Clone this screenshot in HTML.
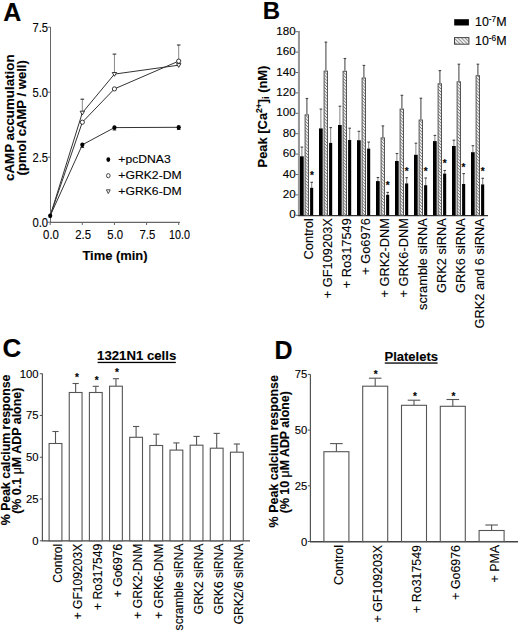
<!DOCTYPE html>
<html><head><meta charset="utf-8"><style>
html,body{margin:0;padding:0;background:#fff;}
svg{display:block;}
text{font-family:"Liberation Sans", sans-serif;fill:#000;stroke:#000;stroke-width:0.12px;}
</style></head><body>
<svg width="520" height="633" viewBox="0 0 520 633">
<defs>
<pattern id="hatch" patternUnits="userSpaceOnUse" width="2.2" height="2.2" patternTransform="rotate(-45)">
<rect width="2.2" height="2.2" fill="#eee"/><line x1="0" y1="0" x2="0" y2="2.2" stroke="#444" stroke-width="1.0"/>
</pattern>
<pattern id="hatch2" patternUnits="userSpaceOnUse" width="2.6" height="2.6" patternTransform="rotate(-45)">
<rect width="2.6" height="2.6" fill="#eee"/><line x1="0" y1="0" x2="0" y2="2.6" stroke="#555" stroke-width="1.1"/>
</pattern>
</defs>
<rect width="520" height="633" fill="#fff"/>
<text x="3.2" y="20.8" font-size="25" font-weight="bold" text-anchor="start">A</text>
<line x1="50.5" y1="27" x2="50.5" y2="222.5" stroke="#666" stroke-width="1"/>
<line x1="50" y1="222.3" x2="180" y2="222.3" stroke="#666" stroke-width="1.2"/>
<line x1="47.8" y1="222.2" x2="50.5" y2="222.2" stroke="#666" stroke-width="1"/>
<text x="48.0" y="226.79999999999998" font-size="12.6" font-weight="normal" text-anchor="end" textLength="15.6" lengthAdjust="spacingAndGlyphs">0.0</text>
<line x1="47.8" y1="157.2" x2="50.5" y2="157.2" stroke="#666" stroke-width="1"/>
<text x="48.0" y="161.79999999999998" font-size="12.6" font-weight="normal" text-anchor="end" textLength="15.6" lengthAdjust="spacingAndGlyphs">2.5</text>
<line x1="47.8" y1="92.19999999999999" x2="50.5" y2="92.19999999999999" stroke="#666" stroke-width="1"/>
<text x="48.0" y="96.79999999999998" font-size="12.6" font-weight="normal" text-anchor="end" textLength="15.6" lengthAdjust="spacingAndGlyphs">5.0</text>
<line x1="47.8" y1="27.19999999999999" x2="50.5" y2="27.19999999999999" stroke="#666" stroke-width="1"/>
<text x="48.0" y="31.79999999999999" font-size="12.6" font-weight="normal" text-anchor="end" textLength="15.6" lengthAdjust="spacingAndGlyphs">7.5</text>
<line x1="50.2" y1="222.3" x2="50.2" y2="225" stroke="#666" stroke-width="1"/>
<text x="51.0" y="239.4" font-size="12.6" font-weight="normal" text-anchor="middle" textLength="15.8" lengthAdjust="spacingAndGlyphs">0.0</text>
<line x1="82.325" y1="222.3" x2="82.325" y2="225" stroke="#666" stroke-width="1"/>
<text x="83.125" y="239.4" font-size="12.6" font-weight="normal" text-anchor="middle" textLength="15.8" lengthAdjust="spacingAndGlyphs">2.5</text>
<line x1="114.45" y1="222.3" x2="114.45" y2="225" stroke="#666" stroke-width="1"/>
<text x="115.25" y="239.4" font-size="12.6" font-weight="normal" text-anchor="middle" textLength="15.8" lengthAdjust="spacingAndGlyphs">5.0</text>
<line x1="146.575" y1="222.3" x2="146.575" y2="225" stroke="#666" stroke-width="1"/>
<text x="147.375" y="239.4" font-size="12.6" font-weight="normal" text-anchor="middle" textLength="15.8" lengthAdjust="spacingAndGlyphs">7.5</text>
<line x1="178.7" y1="222.3" x2="178.7" y2="225" stroke="#666" stroke-width="1"/>
<text x="179.5" y="239.4" font-size="12.6" font-weight="normal" text-anchor="middle" textLength="21.0" lengthAdjust="spacingAndGlyphs">10.0</text>
<text x="115.0" y="260.2" font-size="12.4" font-weight="bold" text-anchor="middle" textLength="65.2" lengthAdjust="spacingAndGlyphs">Time (min)</text>
<text x="13.9" y="181.0" font-size="12.4" font-weight="bold" text-anchor="start" transform="rotate(-90 13.9 181.0)" textLength="126.6" lengthAdjust="spacingAndGlyphs">cAMP accumulation</text>
<text x="25.7" y="175.4" font-size="12.4" font-weight="bold" text-anchor="start" transform="rotate(-90 25.7 175.4)" textLength="115.2" lengthAdjust="spacingAndGlyphs">(pmol cAMP / well)</text>
<line x1="82.325" y1="112.8" x2="82.325" y2="99.2" stroke="#888" stroke-width="1"/>
<line x1="80.525" y1="99.2" x2="84.125" y2="99.2" stroke="#333" stroke-width="1.1"/>
<line x1="114.45" y1="74.1" x2="114.45" y2="54.1" stroke="#888" stroke-width="1"/>
<line x1="112.65" y1="54.1" x2="116.25" y2="54.1" stroke="#333" stroke-width="1.1"/>
<line x1="178.7" y1="61.1" x2="178.7" y2="45.0" stroke="#888" stroke-width="1"/>
<line x1="176.89999999999998" y1="45.0" x2="180.5" y2="45.0" stroke="#333" stroke-width="1.1"/>
<line x1="82.325" y1="144.8" x2="82.325" y2="147.5" stroke="#333" stroke-width="1"/>
<line x1="80.525" y1="147.5" x2="84.125" y2="147.5" stroke="#333" stroke-width="1"/>
<line x1="114.45" y1="127.6" x2="114.45" y2="130" stroke="#333" stroke-width="1"/>
<line x1="112.65" y1="130" x2="116.25" y2="130" stroke="#333" stroke-width="1"/>
<line x1="178.7" y1="127.3" x2="178.7" y2="129.5" stroke="#333" stroke-width="1"/>
<line x1="176.89999999999998" y1="129.5" x2="180.5" y2="129.5" stroke="#333" stroke-width="1"/>
<polyline points="50.20,215.80 82.33,144.80 114.45,127.60 178.70,127.30" fill="none" stroke="#333" stroke-width="1"/>
<polyline points="50.20,215.80 82.33,122.20 114.45,88.90 178.70,61.10" fill="none" stroke="#333" stroke-width="1"/>
<polyline points="50.20,215.80 82.33,112.80 114.45,74.10 178.70,65.20" fill="none" stroke="#333" stroke-width="1"/>
<path d="M80.12,111.20 L84.53,111.20 L82.33,115.00 Z" fill="#fff" stroke="#222" stroke-width="0.9"/>
<path d="M112.25,72.50 L116.65,72.50 L114.45,76.30 Z" fill="#fff" stroke="#222" stroke-width="0.9"/>
<path d="M176.50,63.60 L180.90,63.60 L178.70,67.40 Z" fill="#fff" stroke="#222" stroke-width="0.9"/>
<circle cx="82.33" cy="122.2" r="2.1" fill="#fff" stroke="#222" stroke-width="0.9"/>
<circle cx="114.45" cy="88.9" r="2.1" fill="#fff" stroke="#222" stroke-width="0.9"/>
<circle cx="178.70" cy="61.1" r="2.1" fill="#fff" stroke="#222" stroke-width="0.9"/>
<ellipse cx="50.20" cy="215.8" rx="2.1" ry="2.4" fill="#000"/>
<ellipse cx="82.33" cy="144.8" rx="2.1" ry="2.4" fill="#000"/>
<ellipse cx="114.45" cy="127.6" rx="2.1" ry="2.4" fill="#000"/>
<ellipse cx="178.70" cy="127.3" rx="2.1" ry="2.4" fill="#000"/>
<ellipse cx="108.3" cy="159.6" rx="1.9" ry="2.4" fill="#000"/>
<ellipse cx="108.3" cy="175.7" rx="1.8" ry="2.1" fill="#fff" stroke="#333" stroke-width="0.9"/>
<path d="M106.4,189.8 L110.2,189.8 L108.3,193.6 Z" fill="#fff" stroke="#333" stroke-width="0.9"/>
<text x="118.3" y="163.0" font-size="11.6" font-weight="normal" text-anchor="start" textLength="52.4" lengthAdjust="spacingAndGlyphs">+pcDNA3</text>
<text x="118.3" y="179.3" font-size="11.6" font-weight="normal" text-anchor="start" textLength="63.4" lengthAdjust="spacingAndGlyphs">+GRK2-DM</text>
<text x="118.3" y="195.2" font-size="11.6" font-weight="normal" text-anchor="start" textLength="63.4" lengthAdjust="spacingAndGlyphs">+GRK6-DM</text>
<text x="262.8" y="19.0" font-size="24" font-weight="bold" text-anchor="start">B</text>
<rect x="297.9" y="31" width="2.1" height="184.8" fill="#999"/>
<line x1="298" y1="215.6" x2="488" y2="215.6" stroke="#333" stroke-width="1.3"/>
<line x1="295.6" y1="215.3" x2="298.2" y2="215.3" stroke="#666" stroke-width="1"/>
<text x="295.7" y="218.4" font-size="11.6" font-weight="normal" text-anchor="end">0</text>
<line x1="295.6" y1="194.9" x2="298.2" y2="194.9" stroke="#666" stroke-width="1"/>
<text x="295.7" y="198.0" font-size="11.6" font-weight="normal" text-anchor="end">20</text>
<line x1="295.6" y1="174.5" x2="298.2" y2="174.5" stroke="#666" stroke-width="1"/>
<text x="295.7" y="177.6" font-size="11.6" font-weight="normal" text-anchor="end">40</text>
<line x1="295.6" y1="154.10000000000002" x2="298.2" y2="154.10000000000002" stroke="#666" stroke-width="1"/>
<text x="295.7" y="157.20000000000002" font-size="11.6" font-weight="normal" text-anchor="end">60</text>
<line x1="295.6" y1="133.70000000000002" x2="298.2" y2="133.70000000000002" stroke="#666" stroke-width="1"/>
<text x="295.7" y="136.8" font-size="11.6" font-weight="normal" text-anchor="end">80</text>
<line x1="295.6" y1="113.30000000000001" x2="298.2" y2="113.30000000000001" stroke="#666" stroke-width="1"/>
<text x="295.7" y="116.4" font-size="11.6" font-weight="normal" text-anchor="end">100</text>
<line x1="295.6" y1="92.9" x2="298.2" y2="92.9" stroke="#666" stroke-width="1"/>
<text x="295.7" y="96.0" font-size="11.6" font-weight="normal" text-anchor="end">120</text>
<line x1="295.6" y1="72.5" x2="298.2" y2="72.5" stroke="#666" stroke-width="1"/>
<text x="295.7" y="75.6" font-size="11.6" font-weight="normal" text-anchor="end">140</text>
<line x1="295.6" y1="52.10000000000002" x2="298.2" y2="52.10000000000002" stroke="#666" stroke-width="1"/>
<text x="295.7" y="55.200000000000024" font-size="11.6" font-weight="normal" text-anchor="end">160</text>
<line x1="295.6" y1="31.700000000000017" x2="298.2" y2="31.700000000000017" stroke="#666" stroke-width="1"/>
<text x="295.7" y="34.80000000000002" font-size="11.6" font-weight="normal" text-anchor="end">180</text>
<text x="266.9" y="167.4" font-size="12.9" font-weight="bold" transform="rotate(-90 266.9 167.4)">Peak [Ca<tspan font-size="8.6" dy="-4.6">2+</tspan><tspan dy="4.6">]</tspan><tspan font-size="8.6" dy="2.2">i</tspan><tspan dy="-2.2"> (nM)</tspan></text>
<line x1="301.9" y1="156.3" x2="301.9" y2="147.1" stroke="#808080" stroke-width="1"/>
<line x1="300.59999999999997" y1="147.1" x2="303.2" y2="147.1" stroke="#444" stroke-width="1.1"/>
<line x1="306.9" y1="114.4" x2="306.9" y2="98.5" stroke="#555" stroke-width="1.15"/>
<line x1="305.59999999999997" y1="98.5" x2="308.2" y2="98.5" stroke="#444" stroke-width="1.1"/>
<line x1="311.7" y1="187.8" x2="311.7" y2="182.3" stroke="#808080" stroke-width="1"/>
<line x1="310.4" y1="182.3" x2="313.0" y2="182.3" stroke="#444" stroke-width="1.1"/>
<rect x="300.0" y="156.3" width="3.7" height="59.0" fill="#000" stroke="none" stroke-width="1"/>
<rect x="305.1" y="114.9" width="3.4" height="100.4" fill="url(#hatch)" stroke="#555" stroke-width="1"/>
<rect x="310.1" y="187.8" width="3.1" height="27.5" fill="#000" stroke="none" stroke-width="1"/>
<text x="312.0" y="178.5" font-size="10" font-weight="bold" text-anchor="middle">*</text>
<text x="313.1" y="218.2" font-size="12.8" font-weight="normal" text-anchor="end" transform="rotate(-90 313.1 218.2)">Control</text>
<line x1="320.9" y1="128.4" x2="320.9" y2="109.1" stroke="#808080" stroke-width="1"/>
<line x1="319.59999999999997" y1="109.1" x2="322.2" y2="109.1" stroke="#444" stroke-width="1.1"/>
<line x1="325.9" y1="70.6" x2="325.9" y2="42.1" stroke="#555" stroke-width="1.15"/>
<line x1="324.59999999999997" y1="42.1" x2="327.2" y2="42.1" stroke="#444" stroke-width="1.1"/>
<line x1="330.7" y1="142.9" x2="330.7" y2="127.6" stroke="#808080" stroke-width="1"/>
<line x1="329.4" y1="127.6" x2="332.0" y2="127.6" stroke="#444" stroke-width="1.1"/>
<rect x="319.0" y="128.4" width="3.7" height="86.9" fill="#000" stroke="none" stroke-width="1"/>
<rect x="324.1" y="71.1" width="3.4" height="144.20000000000002" fill="url(#hatch)" stroke="#555" stroke-width="1"/>
<rect x="329.1" y="142.9" width="3.1" height="72.4" fill="#000" stroke="none" stroke-width="1"/>
<text x="332.1" y="218.2" font-size="12.8" font-weight="normal" text-anchor="end" transform="rotate(-90 332.1 218.2)">+ GF109203X</text>
<line x1="339.9" y1="125.0" x2="339.9" y2="106.2" stroke="#808080" stroke-width="1"/>
<line x1="338.59999999999997" y1="106.2" x2="341.2" y2="106.2" stroke="#444" stroke-width="1.1"/>
<line x1="344.9" y1="70.8" x2="344.9" y2="58.5" stroke="#555" stroke-width="1.15"/>
<line x1="343.59999999999997" y1="58.5" x2="346.2" y2="58.5" stroke="#444" stroke-width="1.1"/>
<line x1="349.7" y1="140.0" x2="349.7" y2="128.2" stroke="#808080" stroke-width="1"/>
<line x1="348.4" y1="128.2" x2="351.0" y2="128.2" stroke="#444" stroke-width="1.1"/>
<rect x="338.0" y="125.0" width="3.7" height="90.30000000000001" fill="#000" stroke="none" stroke-width="1"/>
<rect x="343.1" y="71.3" width="3.4" height="144.0" fill="url(#hatch)" stroke="#555" stroke-width="1"/>
<rect x="348.1" y="140.0" width="3.1" height="75.30000000000001" fill="#000" stroke="none" stroke-width="1"/>
<text x="351.1" y="218.2" font-size="12.8" font-weight="normal" text-anchor="end" transform="rotate(-90 351.1 218.2)">+ Ro317549</text>
<line x1="358.9" y1="140.2" x2="358.9" y2="131.3" stroke="#808080" stroke-width="1"/>
<line x1="357.59999999999997" y1="131.3" x2="360.2" y2="131.3" stroke="#444" stroke-width="1.1"/>
<line x1="363.9" y1="77.5" x2="363.9" y2="65.4" stroke="#555" stroke-width="1.15"/>
<line x1="362.59999999999997" y1="65.4" x2="365.2" y2="65.4" stroke="#444" stroke-width="1.1"/>
<line x1="368.7" y1="148.6" x2="368.7" y2="142.1" stroke="#808080" stroke-width="1"/>
<line x1="367.4" y1="142.1" x2="370.0" y2="142.1" stroke="#444" stroke-width="1.1"/>
<rect x="357.0" y="140.2" width="3.7" height="75.10000000000002" fill="#000" stroke="none" stroke-width="1"/>
<rect x="362.1" y="78.0" width="3.4" height="137.3" fill="url(#hatch)" stroke="#555" stroke-width="1"/>
<rect x="367.1" y="148.6" width="3.1" height="66.70000000000002" fill="#000" stroke="none" stroke-width="1"/>
<text x="370.1" y="218.2" font-size="12.8" font-weight="normal" text-anchor="end" transform="rotate(-90 370.1 218.2)">+ Go6976</text>
<line x1="377.9" y1="181.1" x2="377.9" y2="177.5" stroke="#808080" stroke-width="1"/>
<line x1="376.59999999999997" y1="177.5" x2="379.2" y2="177.5" stroke="#444" stroke-width="1.1"/>
<line x1="382.9" y1="137.4" x2="382.9" y2="125.9" stroke="#555" stroke-width="1.15"/>
<line x1="381.59999999999997" y1="125.9" x2="384.2" y2="125.9" stroke="#444" stroke-width="1.1"/>
<line x1="387.7" y1="194.8" x2="387.7" y2="192.4" stroke="#808080" stroke-width="1"/>
<line x1="386.4" y1="192.4" x2="389.0" y2="192.4" stroke="#444" stroke-width="1.1"/>
<rect x="376.0" y="181.1" width="3.7" height="34.20000000000002" fill="#000" stroke="none" stroke-width="1"/>
<rect x="381.1" y="137.9" width="3.4" height="77.4" fill="url(#hatch)" stroke="#555" stroke-width="1"/>
<rect x="386.1" y="194.8" width="3.1" height="20.5" fill="#000" stroke="none" stroke-width="1"/>
<text x="387.79999999999995" y="188.9" font-size="10" font-weight="bold" text-anchor="middle">*</text>
<text x="389.1" y="218.2" font-size="12.8" font-weight="normal" text-anchor="end" transform="rotate(-90 389.1 218.2)">+ GRK2-DNM</text>
<line x1="396.9" y1="161.0" x2="396.9" y2="153.5" stroke="#808080" stroke-width="1"/>
<line x1="395.59999999999997" y1="153.5" x2="398.2" y2="153.5" stroke="#444" stroke-width="1.1"/>
<line x1="401.9" y1="108.6" x2="401.9" y2="95.3" stroke="#555" stroke-width="1.15"/>
<line x1="400.59999999999997" y1="95.3" x2="403.2" y2="95.3" stroke="#444" stroke-width="1.1"/>
<line x1="406.7" y1="183.4" x2="406.7" y2="177.7" stroke="#808080" stroke-width="1"/>
<line x1="405.4" y1="177.7" x2="408.0" y2="177.7" stroke="#444" stroke-width="1.1"/>
<rect x="395.0" y="161.0" width="3.7" height="54.30000000000001" fill="#000" stroke="none" stroke-width="1"/>
<rect x="400.1" y="109.1" width="3.4" height="106.20000000000002" fill="url(#hatch)" stroke="#555" stroke-width="1"/>
<rect x="405.1" y="183.4" width="3.1" height="31.900000000000006" fill="#000" stroke="none" stroke-width="1"/>
<text x="406.79999999999995" y="175.4" font-size="10" font-weight="bold" text-anchor="middle">*</text>
<text x="408.1" y="218.2" font-size="12.8" font-weight="normal" text-anchor="end" transform="rotate(-90 408.1 218.2)">+ GRK6-DNM</text>
<line x1="415.9" y1="154.8" x2="415.9" y2="143.2" stroke="#808080" stroke-width="1"/>
<line x1="414.59999999999997" y1="143.2" x2="417.2" y2="143.2" stroke="#444" stroke-width="1.1"/>
<line x1="420.9" y1="119.5" x2="420.9" y2="98.2" stroke="#555" stroke-width="1.15"/>
<line x1="419.59999999999997" y1="98.2" x2="422.2" y2="98.2" stroke="#444" stroke-width="1.1"/>
<line x1="425.7" y1="185.2" x2="425.7" y2="178.0" stroke="#808080" stroke-width="1"/>
<line x1="424.4" y1="178.0" x2="427.0" y2="178.0" stroke="#444" stroke-width="1.1"/>
<rect x="414.0" y="154.8" width="3.7" height="60.5" fill="#000" stroke="none" stroke-width="1"/>
<rect x="419.1" y="120.0" width="3.4" height="95.30000000000001" fill="url(#hatch)" stroke="#555" stroke-width="1"/>
<rect x="424.1" y="185.2" width="3.1" height="30.100000000000023" fill="#000" stroke="none" stroke-width="1"/>
<text x="425.7" y="174.5" font-size="10" font-weight="bold" text-anchor="middle">*</text>
<text x="427.1" y="218.2" font-size="12.8" font-weight="normal" text-anchor="end" transform="rotate(-90 427.1 218.2)">scramble siRNA</text>
<line x1="434.9" y1="141.1" x2="434.9" y2="135.4" stroke="#808080" stroke-width="1"/>
<line x1="433.59999999999997" y1="135.4" x2="436.2" y2="135.4" stroke="#444" stroke-width="1.1"/>
<line x1="439.9" y1="83.3" x2="439.9" y2="70.6" stroke="#555" stroke-width="1.15"/>
<line x1="438.59999999999997" y1="70.6" x2="441.2" y2="70.6" stroke="#444" stroke-width="1.1"/>
<line x1="444.7" y1="173.6" x2="444.7" y2="170.5" stroke="#808080" stroke-width="1"/>
<line x1="443.4" y1="170.5" x2="446.0" y2="170.5" stroke="#444" stroke-width="1.1"/>
<rect x="433.0" y="141.1" width="3.7" height="74.20000000000002" fill="#000" stroke="none" stroke-width="1"/>
<rect x="438.1" y="83.8" width="3.4" height="131.5" fill="url(#hatch)" stroke="#555" stroke-width="1"/>
<rect x="443.1" y="173.6" width="3.1" height="41.70000000000002" fill="#000" stroke="none" stroke-width="1"/>
<text x="444.7" y="167.2" font-size="10" font-weight="bold" text-anchor="middle">*</text>
<text x="446.1" y="218.2" font-size="12.8" font-weight="normal" text-anchor="end" transform="rotate(-90 446.1 218.2)">GRK2 siRNA</text>
<line x1="453.9" y1="146.0" x2="453.9" y2="140.2" stroke="#808080" stroke-width="1"/>
<line x1="452.59999999999997" y1="140.2" x2="455.2" y2="140.2" stroke="#444" stroke-width="1.1"/>
<line x1="458.9" y1="81.3" x2="458.9" y2="64.2" stroke="#555" stroke-width="1.15"/>
<line x1="457.59999999999997" y1="64.2" x2="460.2" y2="64.2" stroke="#444" stroke-width="1.1"/>
<line x1="463.7" y1="184.0" x2="463.7" y2="173.6" stroke="#808080" stroke-width="1"/>
<line x1="462.4" y1="173.6" x2="465.0" y2="173.6" stroke="#444" stroke-width="1.1"/>
<rect x="452.0" y="146.0" width="3.7" height="69.30000000000001" fill="#000" stroke="none" stroke-width="1"/>
<rect x="457.1" y="81.8" width="3.4" height="133.5" fill="url(#hatch)" stroke="#555" stroke-width="1"/>
<rect x="462.1" y="184.0" width="3.1" height="31.30000000000001" fill="#000" stroke="none" stroke-width="1"/>
<text x="463.5" y="171.3" font-size="10" font-weight="bold" text-anchor="middle">*</text>
<text x="465.1" y="218.2" font-size="12.8" font-weight="normal" text-anchor="end" transform="rotate(-90 465.1 218.2)">GRK6 siRNA</text>
<line x1="472.9" y1="152.2" x2="472.9" y2="145.7" stroke="#808080" stroke-width="1"/>
<line x1="471.59999999999997" y1="145.7" x2="474.2" y2="145.7" stroke="#444" stroke-width="1.1"/>
<line x1="477.9" y1="75.2" x2="477.9" y2="64.2" stroke="#555" stroke-width="1.15"/>
<line x1="476.59999999999997" y1="64.2" x2="479.2" y2="64.2" stroke="#444" stroke-width="1.1"/>
<line x1="482.7" y1="184.4" x2="482.7" y2="178.3" stroke="#808080" stroke-width="1"/>
<line x1="481.4" y1="178.3" x2="484.0" y2="178.3" stroke="#444" stroke-width="1.1"/>
<rect x="471.0" y="152.2" width="3.7" height="63.10000000000002" fill="#000" stroke="none" stroke-width="1"/>
<rect x="476.1" y="75.7" width="3.4" height="139.60000000000002" fill="url(#hatch)" stroke="#555" stroke-width="1"/>
<rect x="481.1" y="184.4" width="3.1" height="30.900000000000006" fill="#000" stroke="none" stroke-width="1"/>
<text x="482.7" y="175.0" font-size="10" font-weight="bold" text-anchor="middle">*</text>
<text x="484.1" y="218.2" font-size="12.8" font-weight="normal" text-anchor="end" transform="rotate(-90 484.1 218.2)">GRK2 and 6 siRNA</text>
<rect x="454.2" y="19.2" width="14.7" height="6.3" fill="#000" stroke="none" stroke-width="1"/>
<rect x="454.5" y="37.6" width="14.4" height="6.6" fill="url(#hatch2)" stroke="#444" stroke-width="1"/>
<text x="475.0" y="26.2" font-size="12.4">10<tspan font-size="8.4" dy="-4.4">-7</tspan><tspan dy="4.4">M</tspan></text>
<text x="475.0" y="45.4" font-size="12.4">10<tspan font-size="8.4" dy="-4.4">-6</tspan><tspan dy="4.4">M</tspan></text>
<text x="2.4" y="357.0" font-size="26" font-weight="bold" text-anchor="start">C</text>
<line x1="42.4" y1="373.5" x2="42.4" y2="541" stroke="#555" stroke-width="1.2"/>
<line x1="42" y1="540.9" x2="250" y2="540.9" stroke="#444" stroke-width="1.4"/>
<line x1="39.8" y1="540.8" x2="42.4" y2="540.8" stroke="#555" stroke-width="1"/>
<text x="38.6" y="544.8" font-size="11.3" font-weight="normal" text-anchor="end">0</text>
<line x1="39.8" y1="499.025" x2="42.4" y2="499.025" stroke="#555" stroke-width="1"/>
<text x="38.6" y="503.025" font-size="11.3" font-weight="normal" text-anchor="end">25</text>
<line x1="39.8" y1="457.24999999999994" x2="42.4" y2="457.24999999999994" stroke="#555" stroke-width="1"/>
<text x="38.6" y="461.24999999999994" font-size="11.3" font-weight="normal" text-anchor="end">50</text>
<line x1="39.8" y1="415.47499999999997" x2="42.4" y2="415.47499999999997" stroke="#555" stroke-width="1"/>
<text x="38.6" y="419.47499999999997" font-size="11.3" font-weight="normal" text-anchor="end">75</text>
<line x1="39.8" y1="373.69999999999993" x2="42.4" y2="373.69999999999993" stroke="#555" stroke-width="1"/>
<text x="38.6" y="377.69999999999993" font-size="11.3" font-weight="normal" text-anchor="end">100</text>
<text x="136.65" y="360.2" font-size="12.2" font-weight="bold" text-anchor="middle" textLength="79.2" lengthAdjust="spacingAndGlyphs">1321N1 cells</text>
<rect x="97.6" y="361.8" width="78.2" height="1.3" fill="#000" stroke="none" stroke-width="1"/>
<text x="9.7" y="525.2" font-size="12.0" font-weight="bold" text-anchor="start" transform="rotate(-90 9.7 525.2)" textLength="150.6" lengthAdjust="spacingAndGlyphs">% Peak calcium response</text>
<text x="20.6" y="513.8" font-size="12.0" font-weight="bold" text-anchor="start" transform="rotate(-90 20.6 513.8)" textLength="126.2" lengthAdjust="spacingAndGlyphs">(% 0.1 <tspan font-weight="normal">μ</tspan>M ADP alone)</text>
<line x1="55.5" y1="443.5" x2="55.5" y2="431.5" stroke="#555" stroke-width="1.1"/>
<line x1="52.4" y1="431.5" x2="58.6" y2="431.5" stroke="#555" stroke-width="1.1"/>
<rect x="49.1" y="443.5" width="12.8" height="97.29999999999995" fill="#fff" stroke="#555" stroke-width="1.1"/>
<text x="62.3" y="543.7" font-size="12.1" font-weight="normal" text-anchor="end" transform="rotate(-90 62.3 543.7)">Control</text>
<line x1="75.65" y1="392.5" x2="75.65" y2="383.5" stroke="#555" stroke-width="1.1"/>
<line x1="72.55000000000001" y1="383.5" x2="78.75" y2="383.5" stroke="#555" stroke-width="1.1"/>
<rect x="69.25" y="392.5" width="12.8" height="148.29999999999995" fill="#fff" stroke="#555" stroke-width="1.1"/>
<text x="82.35" y="543.7" font-size="12.1" font-weight="normal" text-anchor="end" transform="rotate(-90 82.35 543.7)">+ GF109203X</text>
<line x1="95.80000000000001" y1="392.5" x2="95.80000000000001" y2="386.3" stroke="#555" stroke-width="1.1"/>
<line x1="92.70000000000002" y1="386.3" x2="98.9" y2="386.3" stroke="#555" stroke-width="1.1"/>
<rect x="89.4" y="392.5" width="12.8" height="148.29999999999995" fill="#fff" stroke="#555" stroke-width="1.1"/>
<text x="102.4" y="543.7" font-size="12.1" font-weight="normal" text-anchor="end" transform="rotate(-90 102.4 543.7)">+ Ro317549</text>
<line x1="115.95" y1="386.2" x2="115.95" y2="378.7" stroke="#555" stroke-width="1.1"/>
<line x1="112.85000000000001" y1="378.7" x2="119.05" y2="378.7" stroke="#555" stroke-width="1.1"/>
<rect x="109.55" y="386.2" width="12.8" height="154.59999999999997" fill="#fff" stroke="#555" stroke-width="1.1"/>
<text x="122.45" y="543.7" font-size="12.1" font-weight="normal" text-anchor="end" transform="rotate(-90 122.45 543.7)">+ Go6976</text>
<line x1="136.1" y1="437.3" x2="136.1" y2="426.5" stroke="#555" stroke-width="1.1"/>
<line x1="133.0" y1="426.5" x2="139.2" y2="426.5" stroke="#555" stroke-width="1.1"/>
<rect x="129.7" y="437.3" width="12.8" height="103.49999999999994" fill="#fff" stroke="#555" stroke-width="1.1"/>
<text x="142.5" y="543.7" font-size="12.1" font-weight="normal" text-anchor="end" transform="rotate(-90 142.5 543.7)">+ GRK2-DNM</text>
<line x1="156.25" y1="445.5" x2="156.25" y2="434.2" stroke="#555" stroke-width="1.1"/>
<line x1="153.15" y1="434.2" x2="159.35" y2="434.2" stroke="#555" stroke-width="1.1"/>
<rect x="149.85" y="445.5" width="12.8" height="95.29999999999995" fill="#fff" stroke="#555" stroke-width="1.1"/>
<text x="162.55" y="543.7" font-size="12.1" font-weight="normal" text-anchor="end" transform="rotate(-90 162.55 543.7)">+ GRK6-DNM</text>
<line x1="176.4" y1="450.1" x2="176.4" y2="442.9" stroke="#555" stroke-width="1.1"/>
<line x1="173.3" y1="442.9" x2="179.5" y2="442.9" stroke="#555" stroke-width="1.1"/>
<rect x="170.0" y="450.1" width="12.8" height="90.69999999999993" fill="#fff" stroke="#555" stroke-width="1.1"/>
<text x="182.60000000000002" y="543.7" font-size="12.1" font-weight="normal" text-anchor="end" transform="rotate(-90 182.60000000000002 543.7)">scramble siRNA</text>
<line x1="196.54999999999998" y1="445.2" x2="196.54999999999998" y2="436.4" stroke="#555" stroke-width="1.1"/>
<line x1="193.45" y1="436.4" x2="199.64999999999998" y2="436.4" stroke="#555" stroke-width="1.1"/>
<rect x="190.14999999999998" y="445.2" width="12.8" height="95.59999999999997" fill="#fff" stroke="#555" stroke-width="1.1"/>
<text x="202.64999999999998" y="543.7" font-size="12.1" font-weight="normal" text-anchor="end" transform="rotate(-90 202.64999999999998 543.7)">GRK2 siRNA</text>
<line x1="216.7" y1="448.2" x2="216.7" y2="433.4" stroke="#555" stroke-width="1.1"/>
<line x1="213.6" y1="433.4" x2="219.79999999999998" y2="433.4" stroke="#555" stroke-width="1.1"/>
<rect x="210.29999999999998" y="448.2" width="12.8" height="92.59999999999997" fill="#fff" stroke="#555" stroke-width="1.1"/>
<text x="222.7" y="543.7" font-size="12.1" font-weight="normal" text-anchor="end" transform="rotate(-90 222.7 543.7)">GRK6 siRNA</text>
<line x1="236.85" y1="452.2" x2="236.85" y2="444.0" stroke="#555" stroke-width="1.1"/>
<line x1="233.75" y1="444.0" x2="239.95" y2="444.0" stroke="#555" stroke-width="1.1"/>
<rect x="230.45" y="452.2" width="12.8" height="88.59999999999997" fill="#fff" stroke="#555" stroke-width="1.1"/>
<text x="242.75" y="543.7" font-size="12.1" font-weight="normal" text-anchor="end" transform="rotate(-90 242.75 543.7)">GRK2/6 siRNA</text>
<text x="76.9" y="381.2" font-size="10" font-weight="bold" text-anchor="middle">*</text>
<text x="96.60000000000001" y="383.7" font-size="10" font-weight="bold" text-anchor="middle">*</text>
<text x="116.9" y="376.0" font-size="10" font-weight="bold" text-anchor="middle">*</text>
<text x="274.4" y="358.8" font-size="25" font-weight="bold" text-anchor="start">D</text>
<line x1="310.4" y1="374.2" x2="310.4" y2="542" stroke="#555" stroke-width="1.2"/>
<line x1="310" y1="541.8" x2="518" y2="541.8" stroke="#444" stroke-width="1.4"/>
<line x1="307.8" y1="541.5" x2="310.4" y2="541.5" stroke="#555" stroke-width="1"/>
<text x="307.3" y="545.5" font-size="11.3" font-weight="normal" text-anchor="end">0</text>
<line x1="307.8" y1="485.8" x2="310.4" y2="485.8" stroke="#555" stroke-width="1"/>
<text x="307.3" y="489.8" font-size="11.3" font-weight="normal" text-anchor="end">25</text>
<line x1="307.8" y1="430.1" x2="310.4" y2="430.1" stroke="#555" stroke-width="1"/>
<text x="307.3" y="434.1" font-size="11.3" font-weight="normal" text-anchor="end">50</text>
<line x1="307.8" y1="374.4" x2="310.4" y2="374.4" stroke="#555" stroke-width="1"/>
<text x="307.3" y="378.4" font-size="11.3" font-weight="normal" text-anchor="end">75</text>
<text x="411.25" y="360.5" font-size="12.4" font-weight="bold" text-anchor="middle" textLength="53.6" lengthAdjust="spacingAndGlyphs">Platelets</text>
<rect x="384.8" y="362.4" width="52.8" height="1.3" fill="#000" stroke="none" stroke-width="1"/>
<text x="277.6" y="527.4" font-size="12.0" font-weight="bold" text-anchor="start" transform="rotate(-90 277.6 527.4)" textLength="152.4" lengthAdjust="spacingAndGlyphs">% Peak calcium response</text>
<text x="289.2" y="513.2" font-size="12.0" font-weight="bold" text-anchor="start" transform="rotate(-90 289.2 513.2)" textLength="122.0" lengthAdjust="spacingAndGlyphs">(% 10 <tspan font-weight="normal">μ</tspan>M ADP alone)</text>
<line x1="336.4" y1="451.7" x2="336.4" y2="443.6" stroke="#555" stroke-width="1.1"/>
<line x1="330.09999999999997" y1="443.6" x2="342.7" y2="443.6" stroke="#555" stroke-width="1.1"/>
<rect x="323.9" y="451.7" width="25.0" height="89.80000000000001" fill="#fff" stroke="#555" stroke-width="1.1"/>
<text x="343.3" y="545.0" font-size="12.4" font-weight="normal" text-anchor="end" transform="rotate(-90 343.3 545.0)">Control</text>
<line x1="375.2" y1="386.2" x2="375.2" y2="378.2" stroke="#555" stroke-width="1.1"/>
<line x1="368.9" y1="378.2" x2="381.5" y2="378.2" stroke="#555" stroke-width="1.1"/>
<rect x="362.7" y="386.2" width="25.0" height="155.3" fill="#fff" stroke="#555" stroke-width="1.1"/>
<text x="382.15000000000003" y="545.0" font-size="12.4" font-weight="normal" text-anchor="end" transform="rotate(-90 382.15000000000003 545.0)">+ GF109203X</text>
<line x1="414.0" y1="405.3" x2="414.0" y2="400.2" stroke="#555" stroke-width="1.1"/>
<line x1="407.7" y1="400.2" x2="420.3" y2="400.2" stroke="#555" stroke-width="1.1"/>
<rect x="401.5" y="405.3" width="25.0" height="136.2" fill="#fff" stroke="#555" stroke-width="1.1"/>
<text x="421.0" y="545.0" font-size="12.4" font-weight="normal" text-anchor="end" transform="rotate(-90 421.0 545.0)">+ Ro317549</text>
<line x1="452.79999999999995" y1="406.3" x2="452.79999999999995" y2="399.5" stroke="#555" stroke-width="1.1"/>
<line x1="446.49999999999994" y1="399.5" x2="459.09999999999997" y2="399.5" stroke="#555" stroke-width="1.1"/>
<rect x="440.29999999999995" y="406.3" width="25.0" height="135.2" fill="#fff" stroke="#555" stroke-width="1.1"/>
<text x="459.85" y="545.0" font-size="12.4" font-weight="normal" text-anchor="end" transform="rotate(-90 459.85 545.0)">+ Go6976</text>
<line x1="491.59999999999997" y1="530.5" x2="491.59999999999997" y2="525.0" stroke="#555" stroke-width="1.1"/>
<line x1="485.29999999999995" y1="525.0" x2="497.9" y2="525.0" stroke="#555" stroke-width="1.1"/>
<rect x="479.09999999999997" y="530.5" width="25.0" height="11.0" fill="#fff" stroke="#555" stroke-width="1.1"/>
<text x="498.70000000000005" y="545.0" font-size="12.4" font-weight="normal" text-anchor="end" transform="rotate(-90 498.70000000000005 545.0)">+ PMA</text>
<text x="375.7" y="378.0" font-size="10" font-weight="bold" text-anchor="middle">*</text>
<text x="414.9" y="399.8" font-size="10" font-weight="bold" text-anchor="middle">*</text>
<text x="453.4" y="399.8" font-size="10" font-weight="bold" text-anchor="middle">*</text>
</svg>
</body></html>
